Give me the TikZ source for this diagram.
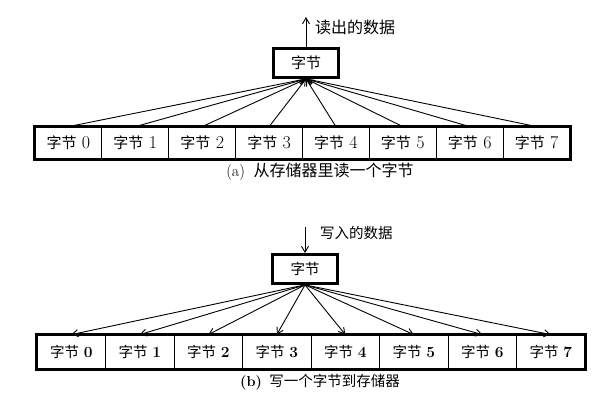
\documentclass[tikz,border=0pt]{standalone}
\usepackage{fontspec}
\newfontfamily\cjk{Noto Sans CJK SC}
\usepackage{tikz}
\usetikzlibrary{arrows.meta}
\newcommand{\zjtop}[1]{{\cjk\fontsize{15}{17}\selectfont 字节} #1}
\newcommand{\zjbot}[1]{{\cjk\fontsize{14.5}{17}\selectfont 字节} \textbf{#1}}
\tikzset{
  cell/.style={draw,line width=0.8pt,minimum width=66.9pt,minimum height=32pt,inner sep=0pt,font=\fontsize{18}{20}\selectfont},
  cellb/.style={cell,minimum width=68.5pt,minimum height=34pt,font=\fontsize{15.5}{18}\selectfont},
  bytebox/.style={draw,line width=2.8pt,minimum width=65pt,minimum height=29pt,inner sep=0pt,font=\fontsize{15}{17}\selectfont},
  frame/.style={line width=2.8pt},
  lbl/.style={anchor=west,inner sep=0pt,font=\fontsize{16}{18}\selectfont},
  captext/.style={inner sep=0pt,font=\fontsize{16}{18}\selectfont},
  arr/.style={-{Straight Barb[length=6pt,width=7pt]},line width=0.9pt}
}

\begin{document}
\begin{tikzpicture}[x=1pt,y=1pt]
\useasboundingbox (0,0) rectangle (611,-412);
% (a) read
\node[bytebox] (boxa) at (306,-63) {\cjk 字节};
\coordinate (outa) at (306,-17);
\node[lbl] (lbla) at (315,-27) {\cjk 读出的数据};
\draw[arr] (boxa.north) -- (outa);
\node[cell] (a0) at (68.4,-143) {\zjtop{0}};
\node[cell] (a1) at (135.3,-143) {\zjtop{1}};
\node[cell] (a2) at (202.2,-143) {\zjtop{2}};
\node[cell] (a3) at (269.1,-143) {\zjtop{3}};
\node[cell] (a4) at (335.9,-143) {\zjtop{4}};
\node[cell] (a5) at (402.8,-143) {\zjtop{5}};
\node[cell] (a6) at (469.7,-143) {\zjtop{6}};
\node[cell] (a7) at (536.6,-143) {\zjtop{7}};
\draw[frame] (a0.north west) rectangle (a7.south east);
\draw[arr] (a0.north) -- (boxa.south);
\draw[arr] (a1.north) -- (boxa.south);
\draw[arr] (a2.north) -- (boxa.south);
\draw[arr] (a3.north) -- (boxa.south);
\draw[arr] (a4.north) -- (boxa.south);
\draw[arr] (a5.north) -- (boxa.south);
\draw[arr] (a6.north) -- (boxa.south);
\draw[arr] (a7.north) -- (boxa.south);
\node[captext] (capa) at (320,-172) {(a)\hspace{0.55em}{\cjk 从存储器里读一个字节}};
% (b) write
\coordinate (inb) at (305,-227);
\node[lbl,font=\fontsize{14.5}{17}\selectfont] (lblb) at (320,-233) {\cjk 写入的数据};
\node[bytebox,font=\fontsize{14.5}{17}\selectfont] (boxb) at (305,-269) {\cjk 字节};
\draw[arr] (inb) -- (boxb.north);
\node[cellb] (b0) at (71.3,-352) {\zjbot{0}};
\node[cellb] (b1) at (139.8,-352) {\zjbot{1}};
\node[cellb] (b2) at (208.3,-352) {\zjbot{2}};
\node[cellb] (b3) at (276.8,-352) {\zjbot{3}};
\node[cellb] (b4) at (345.3,-352) {\zjbot{4}};
\node[cellb] (b5) at (413.8,-352) {\zjbot{5}};
\node[cellb] (b6) at (482.3,-352) {\zjbot{6}};
\node[cellb] (b7) at (550.8,-352) {\zjbot{7}};
\draw[frame] (b0.north west) rectangle (b7.south east);
\draw[arr] (boxb.south) -- (b0.north);
\draw[arr] (boxb.south) -- (b1.north);
\draw[arr] (boxb.south) -- (b2.north);
\draw[arr] (boxb.south) -- (b3.north);
\draw[arr] (boxb.south) -- (b4.north);
\draw[arr] (boxb.south) -- (b5.north);
\draw[arr] (boxb.south) -- (b6.north);
\draw[arr] (boxb.south) -- (b7.north);
\node[captext,font=\fontsize{14.5}{17}\selectfont] (capb) at (320,-382) {\textbf{(b)}\hspace{0.5em}{\cjk 写一个字节到存储器}};
\end{tikzpicture}
\end{document}
